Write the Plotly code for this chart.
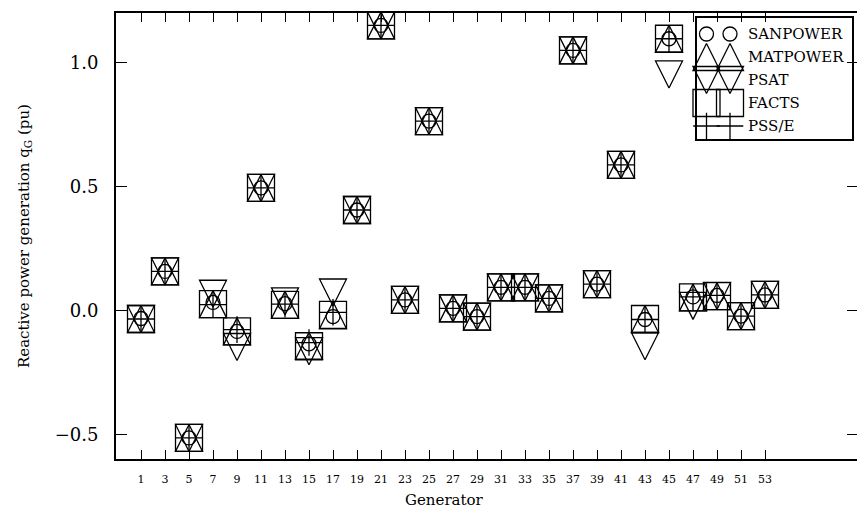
import plotly.graph_objects as go

# Generator numbers (odd buses) and reactive power generation per solver (pu)
generators = [1, 3, 5, 7, 9, 11, 13, 15, 17, 19, 21, 23, 25, 27,
              29, 31, 33, 35, 37, 39, 41, 43, 45, 47, 49, 51, 53]

sanpower = [-0.033, 0.157, -0.515, 0.032, -0.085, 0.494, 0.027, -0.135, -0.025,
            0.405, 1.150, 0.042, 0.764, 0.008, -0.025, 0.093, 0.093, 0.048,
            1.049, 0.106, 0.587, -0.037, 1.096, 0.054, 0.060, -0.023, 0.062]
matpower = [-0.035, 0.157, -0.515, 0.025, -0.085, 0.494, 0.022, -0.143, -0.020,
            0.405, 1.150, 0.042, 0.764, 0.008, -0.025, 0.093, 0.093, 0.048,
            1.049, 0.106, 0.587, -0.035, 1.096, 0.052, 0.057, -0.023, 0.062]
psat = [-0.035, 0.157, -0.515, 0.067, -0.148, 0.494, 0.036, -0.165, 0.072,
        0.405, 1.150, 0.042, 0.764, 0.008, -0.025, 0.093, 0.093, 0.048,
        1.049, 0.106, 0.587, -0.145, 0.952, 0.018, 0.058, -0.023, 0.062]
facts = [-0.035, 0.157, -0.515, 0.025, -0.085, 0.494, 0.022, -0.145, -0.018,
         0.405, 1.150, 0.042, 0.764, 0.008, -0.025, 0.093, 0.093, 0.048,
         1.049, 0.106, 0.587, -0.035, 1.096, 0.052, 0.057, -0.023, 0.062]
psse = [-0.035, 0.157, -0.515, 0.023, -0.078, 0.494, 0.025, -0.130, -0.008,
        0.405, 1.150, 0.042, 0.764, 0.008, -0.025, 0.093, 0.093, 0.048,
        1.049, 0.106, 0.587, -0.037, 1.096, 0.054, 0.060, -0.023, 0.062]

y_ticks = [-0.5, 0.0, 0.5, 1.0]
y_range = [-0.6, 1.2]

FONT = "DejaVu Serif"
W, H = 857, 518
L, R, T, B = 116, 0, 13, 59
PX_PER_GEN = 24           # horizontal spacing between consecutive generators
FIRST_TICK_PX = 141       # pixel position of the first generator

LINE_W = 1.3
TRI = 27                  # triangle width/height in px

# marker styles: (symbol, size, angle, standoff)
styles = {
    "SANPOWER": dict(symbol="circle-open", size=14, angle=0, standoff=0),
    "MATPOWER": dict(symbol="arrow-down-open", size=TRI, angle=180, standoff=TRI / 2),
    "PSAT": dict(symbol="arrow-down-open", size=TRI, angle=0, standoff=TRI / 2),
    "FACTS": dict(symbol="square-open", size=27, angle=0, standoff=0),
    "PSS/E": dict(symbol="cross-thin-open", size=19, angle=0, standoff=0),
}
series = {
    "SANPOWER": sanpower,
    "MATPOWER": matpower,
    "PSAT": psat,
    "FACTS": facts,
    "PSS/E": psse,
}

idx = list(range(len(generators)))

fig = go.Figure()
for name, vals in series.items():
    st = styles[name]
    fig.add_trace(go.Scatter(
        x=idx, y=vals, mode="markers", name=name, showlegend=False,
        marker=dict(symbol=st["symbol"], size=st["size"], angle=st["angle"],
                    standoff=st["standoff"], color="black",
                    line=dict(color="black", width=LINE_W)),
    ))

# empty trace bound to the right-hand tick axis so that it gets drawn
fig.add_trace(go.Scatter(x=[], y=[], yaxis="y3", showlegend=False, hoverinfo="skip"))

# hand-drawn legend with two sample glyphs per entry (pixel-coordinate overlay axes)
LEG_SAMPLES_X = [706.5, 730]
LEG_ROW0, LEG_STEP = 34, 23
LEG_TEXT_X = 746
for k, name in enumerate(series):
    st = styles[name]
    row_y = LEG_ROW0 + LEG_STEP * k
    fig.add_trace(go.Scatter(
        x=LEG_SAMPLES_X, y=[row_y] * len(LEG_SAMPLES_X), mode="markers",
        xaxis="x2", yaxis="y2", showlegend=False, hoverinfo="skip",
        marker=dict(symbol=st["symbol"], size=st["size"], angle=st["angle"],
                    standoff=st["standoff"], color="black",
                    line=dict(color="black", width=LINE_W)),
    ))
    fig.add_annotation(x=LEG_TEXT_X, y=row_y, xref="x2", yref="y2", text=name,
                       showarrow=False, xanchor="left", yanchor="middle",
                       font=dict(family=FONT, size=15, color="black"))

# legend frame
fig.add_shape(type="rect", xref="x2", yref="y2", x0=696, x1=853, y0=17, y1=140,
              line=dict(color="black", width=2), fillcolor="white", layer="below")

plot_w = W - L - R
x_lo = -(FIRST_TICK_PX - L) / PX_PER_GEN
x_hi = x_lo + plot_w / PX_PER_GEN

fig.update_layout(
    width=W, height=H,
    margin=dict(l=L, r=R, t=T, b=B, pad=0),
    paper_bgcolor="white", plot_bgcolor="white",
    showlegend=False,
    font=dict(family=FONT, color="black"),
    xaxis=dict(
        range=[x_lo, x_hi], tickvals=idx, ticktext=[str(g) for g in generators],
        ticks="inside", ticklen=9, tickwidth=1, tickcolor="black",
        showline=True, linewidth=2, linecolor="black", mirror="ticks",
        showgrid=False, zeroline=False,
        tickfont=dict(family=FONT, size=11, color="black"),
        ticklabelstandoff=9,
    ),
    yaxis=dict(
        range=y_range, tickvals=y_ticks, tickformat=".1f",
        ticks="inside", ticklen=11, tickwidth=1, tickcolor="black",
        showline=True, linewidth=2, linecolor="black", mirror=False,
        showgrid=False, zeroline=False,
        tickfont=dict(family=FONT, size=18, color="black"),
        ticklabelstandoff=12,
    ),
    yaxis3=dict(
        overlaying="y", side="right", anchor="x", range=y_range, tickvals=y_ticks,
        ticks="inside", ticklen=10, tickwidth=1, tickcolor="black",
        showticklabels=False, showline=False, showgrid=False, zeroline=False,
    ),
    xaxis2=dict(overlaying="x", range=[L, W - R], visible=False, fixedrange=True),
    yaxis2=dict(overlaying="y", range=[H - B, T], visible=False, fixedrange=True),
)

fig.add_annotation(text="Generator", xref="paper", yref="paper",
                   x=(444 - L) / plot_w, y=-(500 - (H - B)) / (H - T - B),
                   showarrow=False, xanchor="center", yanchor="middle",
                   font=dict(family=FONT, size=15, color="black"))
fig.add_annotation(text="Reactive power generation q<sub>G</sub> (pu)",
                   xref="paper", yref="paper",
                   x=(24 - L) / plot_w, y=0.5, textangle=-90,
                   showarrow=False, xanchor="center", yanchor="middle",
                   font=dict(family=FONT, size=15, color="black"))

fig.write_html("out.html")
